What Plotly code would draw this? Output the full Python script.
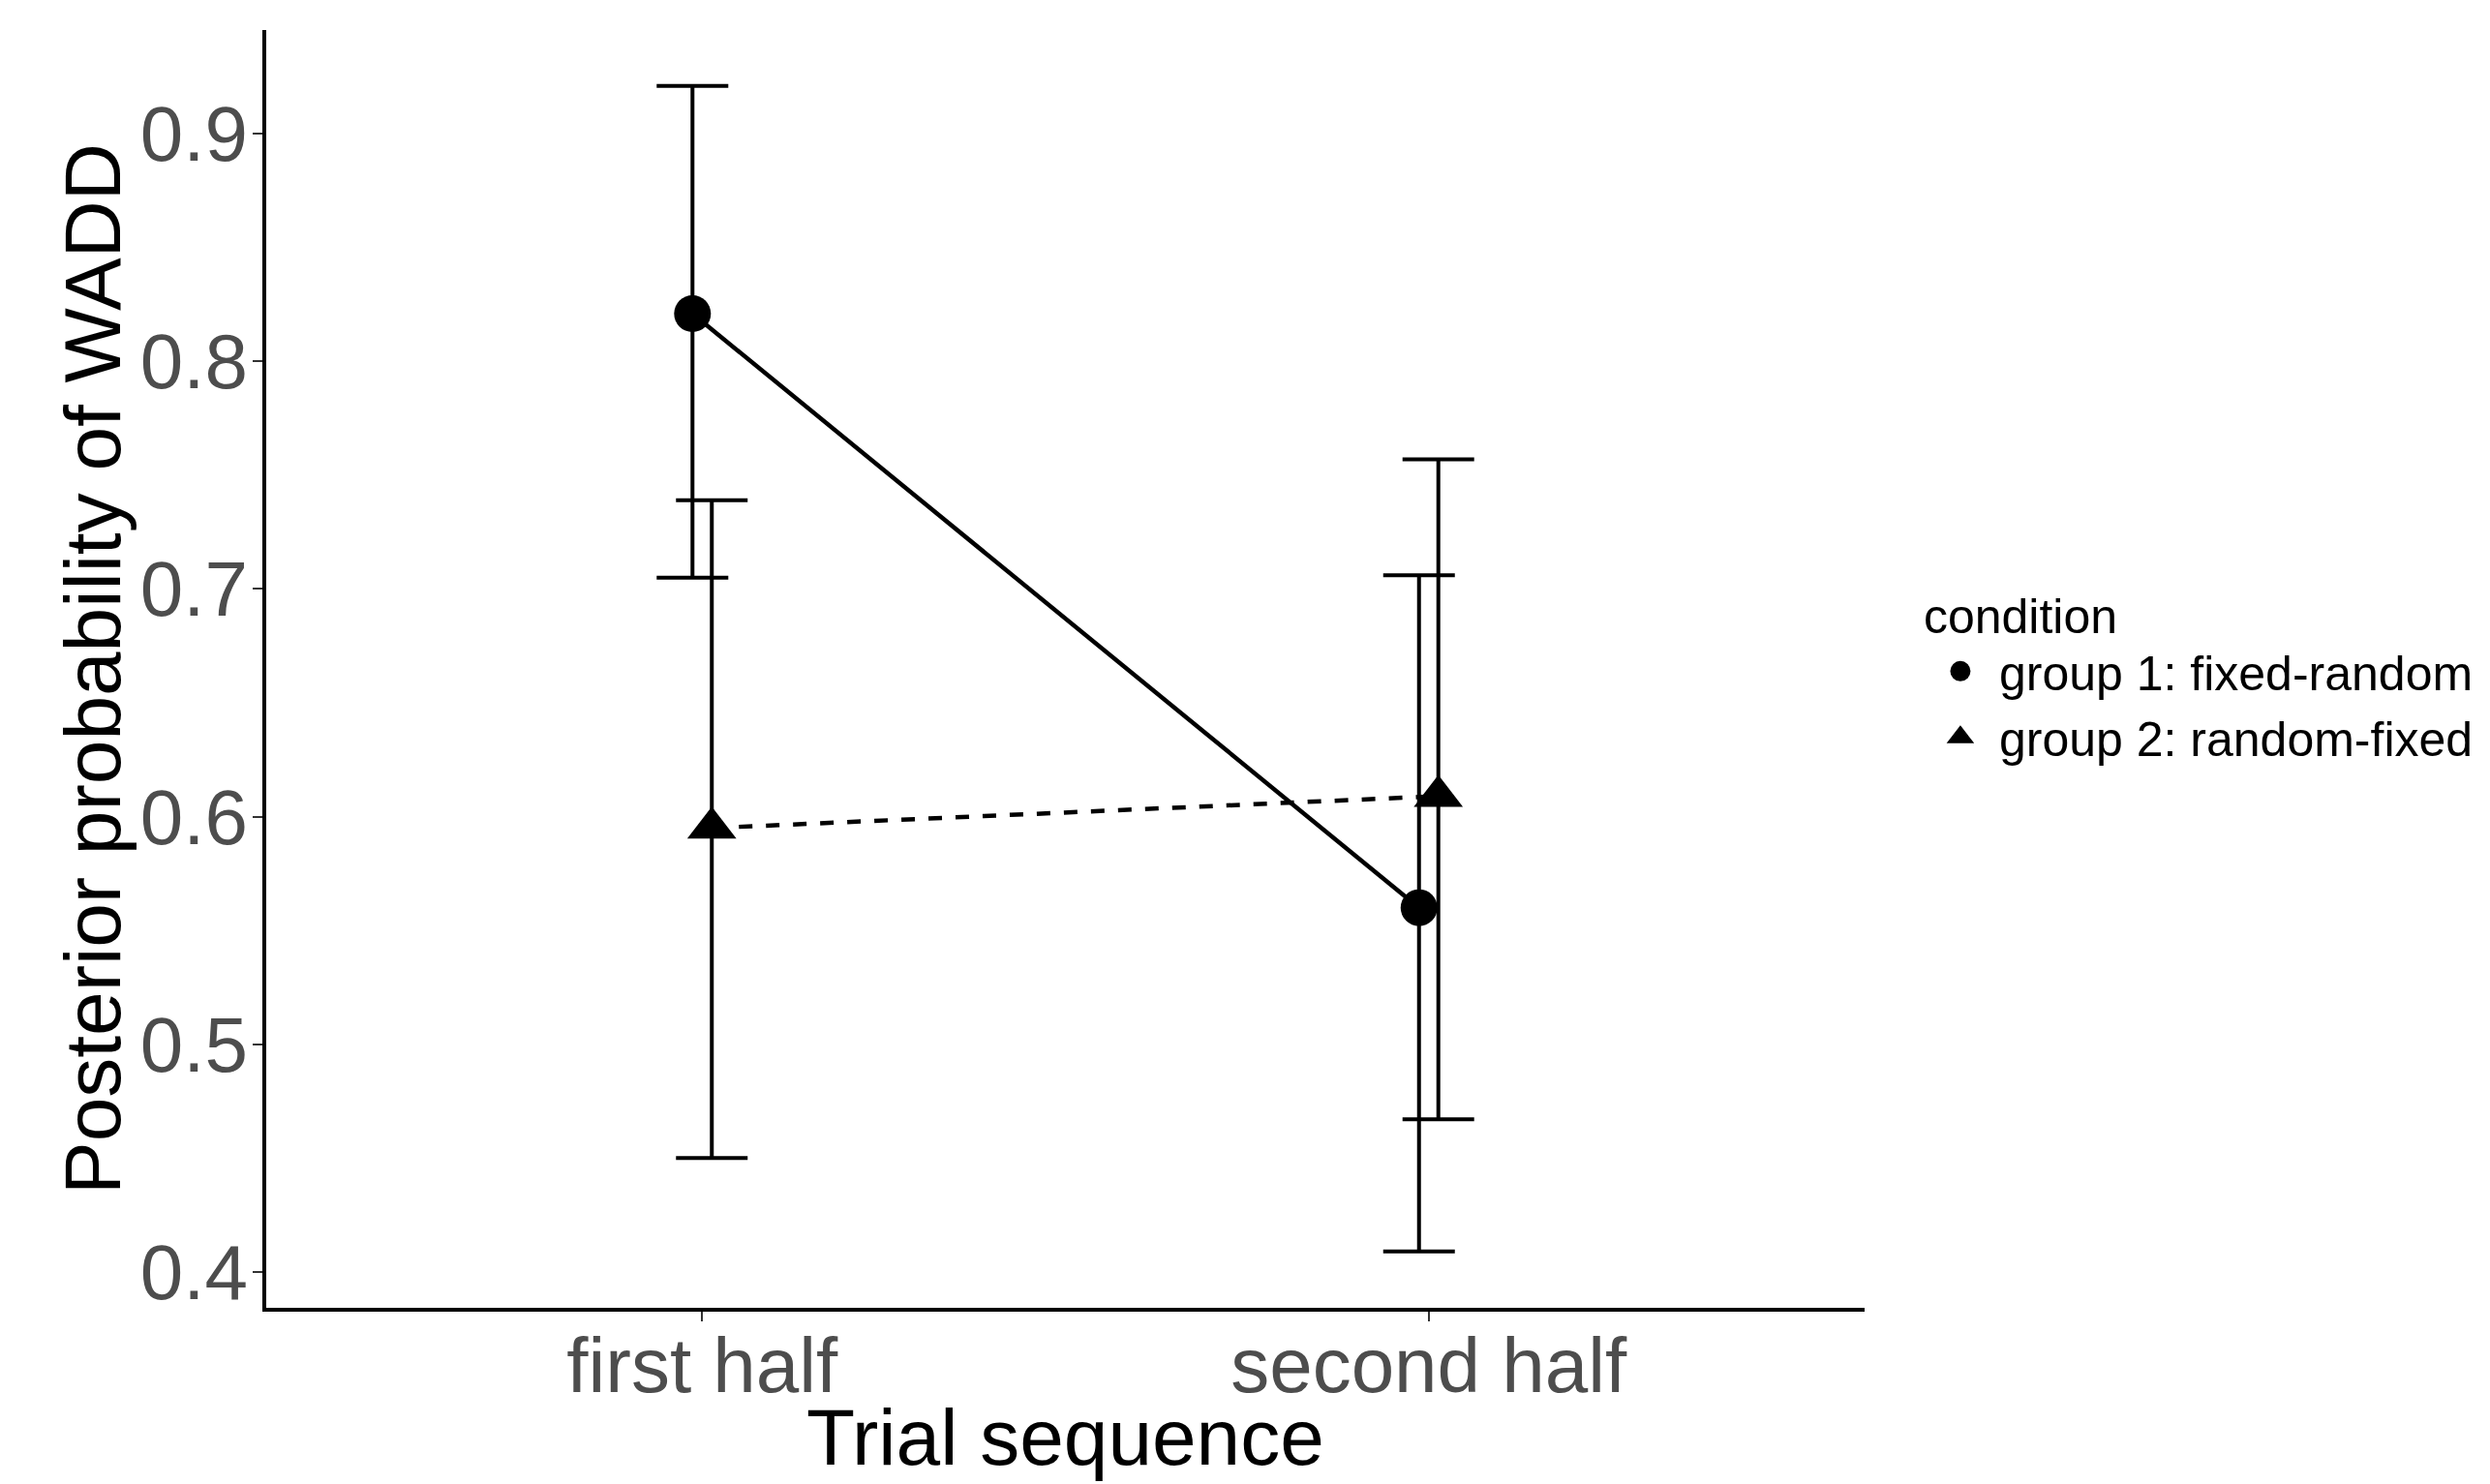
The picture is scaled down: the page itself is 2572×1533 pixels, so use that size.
import plotly.graph_objects as go

# ---- data ----
categories = ["first half", "second half"]
groups = ["group 1: fixed-random", "group 2: random-fixed"]
means_g1 = [0.821, 0.560]
upper_g1 = [0.921, 0.706]
lower_g1 = [0.705, 0.409]
means_g2 = [0.595, 0.609]
upper_g2 = [0.739, 0.757]
lower_g2 = [0.450, 0.467]
y_ticks = [0.4, 0.5, 0.6, 0.7, 0.8, 0.9]

# ---- style ----
FONT = "Liberation Sans, Arial, sans-serif"
DODGE = 0.0133
W, H = 2572, 1533
ML, MR, MT, MB = 275, 643, 31, 182

series = [
    (groups[0], means_g1, upper_g1, lower_g1, -DODGE, "circle", 38, "solid"),
    (groups[1], means_g2, upper_g2, lower_g2, +DODGE, "triangle-up", 44, "14px,14px"),
]

fig = go.Figure()
for name, m, up, lo, off, sym, ms, dash in series:
    xs = [i + 1 + off for i in range(len(categories))]
    fig.add_trace(go.Scatter(
        x=xs, y=m, mode="lines+markers", name=name, showlegend=False,
        line=dict(color="black", width=4.5, dash=dash),
        marker=dict(symbol=sym, size=ms, color="black"),
        error_y=dict(type="data", symmetric=False,
                     array=[u - v for u, v in zip(up, m)],
                     arrayminus=[v - l for v, l in zip(m, lo)],
                     color="black", thickness=4, width=37),
        cliponaxis=False,
    ))
    fig.add_trace(go.Scatter(
        x=[None], y=[None], mode="markers", name=name, showlegend=True,
        marker=dict(symbol=sym, size=ms, color="black",
                    line=dict(color="black", width=5)),
    ))

fig.update_layout(
    width=W, height=H,
    margin=dict(l=ML, r=MR, t=MT, b=MB),
    paper_bgcolor="white", plot_bgcolor="white",
    font=dict(family=FONT, color="black"),
    xaxis=dict(
        range=[0.4, 2.6], tickmode="array", tickvals=[1, 2], ticktext=categories,
        showgrid=False, zeroline=False, showline=True, linecolor="black", linewidth=4,
        ticks="outside", ticklen=10, tickwidth=2, tickcolor="#333333",
        ticklabelstandoff=-23,
        tickfont=dict(size=80, color="#4D4D4D", family=FONT),
    ),
    yaxis=dict(
        range=[0.3842, 0.9456], tickmode="array", tickvals=y_ticks,
        ticktext=[f"{v:.1f}" for v in y_ticks],
        showgrid=False, zeroline=False, showline=True, linecolor="black", linewidth=4,
        ticks="outside", ticklen=10, tickwidth=2, tickcolor="#333333",
        ticklabelstandoff=-11,
        tickfont=dict(size=80, color="#4D4D4D", family=FONT),
    ),
    legend=dict(
        title=dict(text="condition", font=dict(size=50, color="black", family=FONT)),
        font=dict(size=50, color="black", family=FONT),
        x=1.0357, xanchor="left", y=0.577, yanchor="top",
        bgcolor="rgba(0,0,0,0)", itemsizing="trace", tracegroupgap=0,
        itemwidth=70,
    ),
    annotations=[
        dict(text="Trial sequence", xref="paper", yref="paper", x=0.5, y=-0.065,
             xanchor="center", yanchor="top", showarrow=False,
             font=dict(size=82, color="black", family=FONT)),
        dict(text="Posterior probability of WADD", xref="paper", yref="paper",
             x=-0.109, y=0.5, xanchor="center", yanchor="middle", textangle=-90,
             showarrow=False, font=dict(size=82, color="black", family=FONT)),
    ],
)

fig.write_html("out.html", config={"displayModeBar": False},
               post_script="document.body.style.margin='0';document.body.style.overflow='hidden';")
